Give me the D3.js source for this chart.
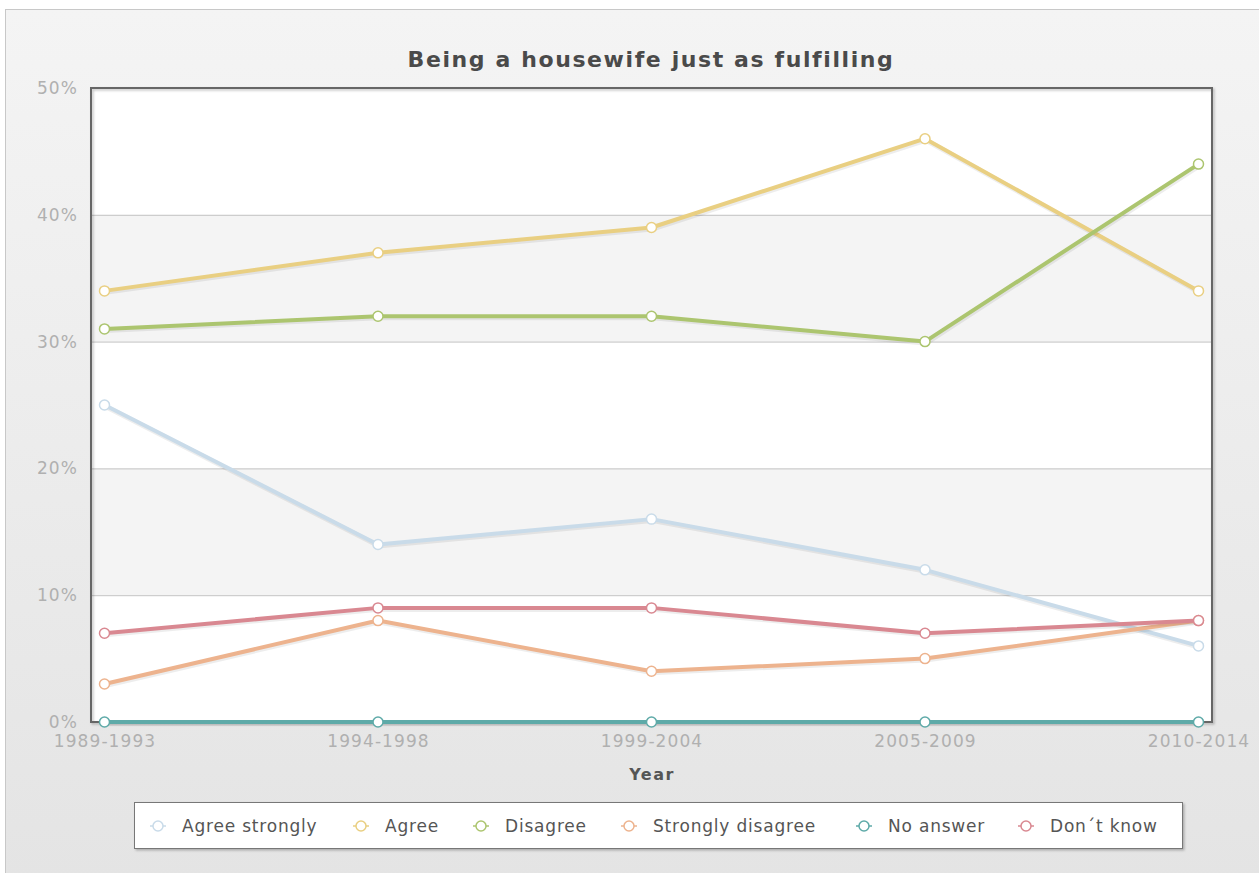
<!DOCTYPE html>
<html>
<head>
<meta charset="utf-8">
<script src="https://cdn.jsdelivr.net/npm/d3@7"></script>
<style>
  body { margin: 0; background: #fff; }
  svg { display: block; font-family: "DejaVu Sans", Verdana, sans-serif; }
</style>
</head>
<body>
<svg width="1259" height="873"></svg>
<script>
// data
let periods = ["1989-1993", "1994-1998", "1999-2004", "2005-2009", "2010-2014"];
let seriesNames = ["Agree strongly", "Agree", "Disagree", "Strongly disagree", "No answer", "Don\u00b4t know"];
let agreeStrongly = [25, 14, 16, 12, 6];
let agree = [34, 37, 39, 46, 34];
let disagree = [31, 32, 32, 30, 44];
let stronglyDisagree = [3, 8, 4, 5, 8];
let noAnswer = [0, 0, 0, 0, 0];
let dontKnow = [7, 9, 9, 7, 8];
let yTicks = [0, 10, 20, 30, 40, 50];
let colors = ["#c9dbe9", "#e9cf82", "#acc56f", "#edb38e", "#5eaaa8", "#d98891"];

let allValues = [agreeStrongly, agree, disagree, stronglyDisagree, noAnswer, dontKnow];

let svg = d3.select("svg");
let defs = svg.append("defs");

let bg = defs.append("linearGradient").attr("id", "bg")
  .attr("x1", 0).attr("y1", 0).attr("x2", 0).attr("y2", 1);
bg.append("stop").attr("offset", "0%").attr("stop-color", "#f4f4f4");
bg.append("stop").attr("offset", "100%").attr("stop-color", "#e4e4e4");

let shadow = defs.append("filter").attr("id", "shadow")
  .attr("x", "-5%").attr("y", "-5%").attr("width", "110%").attr("height", "120%");
shadow.append("feDropShadow").attr("dx", 1.5).attr("dy", 1.5)
  .attr("stdDeviation", 1.2).attr("flood-color", "#000").attr("flood-opacity", 0.25);

// outer chart box
svg.append("rect")
  .attr("x", 5.5).attr("y", 9.5)
  .attr("width", 1260).attr("height", 870)
  .attr("fill", "url(#bg)")
  .attr("stroke", "#c8c8c8");

let plotL = 91, plotT = 88, plotR = 1212, plotB = 722;

let x = d3.scalePoint()
  .domain(periods)
  .range([plotL + 13.5, plotR - 13.5]);
let y = d3.scaleLinear()
  .domain([0, 50])
  .range([plotB, plotT]);

// alternating bands
svg.append("g").selectAll("rect")
  .data(yTicks.slice(0, -1))
  .enter().append("rect")
    .attr("x", plotL)
    .attr("y", d => y(d + 10))
    .attr("width", plotR - plotL)
    .attr("height", d => y(d) - y(d + 10))
    .attr("fill", (d, i) => i % 2 ? "#f4f4f4" : "#ffffff");

// grid lines
svg.append("g")
  .attr("transform", `translate(${plotL},0)`)
  .call(d3.axisLeft(y).tickValues(yTicks).tickSize(-(plotR - plotL)).tickFormat(""))
  .call(g => g.select(".domain").remove())
  .selectAll("line").attr("stroke", "#c4c4c4");

// plot frame
svg.append("rect")
  .attr("x", plotL).attr("y", plotT)
  .attr("width", plotR - plotL).attr("height", plotB - plotT)
  .attr("fill", "none")
  .attr("stroke", "#666")
  .attr("stroke-width", 2)
  .attr("filter", "url(#shadow)");

// y labels
svg.append("g")
  .attr("transform", `translate(${plotL},0)`)
  .call(d3.axisLeft(y).tickValues(yTicks).tickSize(0).tickPadding(13).tickFormat(d => d + "%"))
  .call(g => g.select(".domain").remove())
  .selectAll("text")
    .attr("fill", "#b0b0b0")
    .attr("font-size", 17)
    .attr("letter-spacing", 1.1)
    .attr("font-family", "DejaVu Sans, sans-serif");

// x labels
svg.append("g")
  .attr("transform", `translate(0,${plotB})`)
  .call(d3.axisBottom(x).tickSize(0).tickPadding(13))
  .call(g => g.select(".domain").remove())
  .selectAll("text")
    .attr("fill", "#b0b0b0")
    .attr("font-size", 17)
    .attr("letter-spacing", 1.1)
    .attr("font-family", "DejaVu Sans, sans-serif");

svg.append("text")
  .attr("x", 652).attr("y", 780)
  .attr("text-anchor", "middle")
  .attr("font-size", 16)
  .attr("font-weight", "bold")
  .attr("letter-spacing", 1.5)
  .attr("fill", "#555")
  .text("Year");

svg.append("text")
  .attr("x", 651).attr("y", 67)
  .attr("text-anchor", "middle")
  .attr("font-size", 22)
  .attr("font-weight", "bold")
  .attr("fill", "#4a4a4a")
  .attr("letter-spacing", 1.6)
  .text("Being a housewife just as fulfilling");

// lines
let line = d3.line()
  .x((d, i) => x(periods[i]))
  .y(d => y(d));

let series = svg.append("g").selectAll("g")
  .data(allValues)
  .enter().append("g");

series.append("path")
  .attr("d", line)
  .attr("fill", "none")
  .attr("stroke", "#000")
  .attr("stroke-opacity", 0.07)
  .attr("stroke-width", 5)
  .attr("transform", "translate(1,1.5)");

series.append("path")
  .attr("d", line)
  .attr("fill", "none")
  .attr("stroke", (d, i) => colors[i])
  .attr("stroke-width", 4)
  .attr("stroke-linejoin", "round");

series.selectAll("circle")
  .data((d, i) => d.map(v => ({ v: v, c: colors[i] })))
  .enter().append("circle")
    .attr("cx", (d, i) => x(periods[i]))
    .attr("cy", d => y(d.v))
    .attr("r", 5)
    .attr("fill", "#fff")
    .attr("stroke", d => d.c)
    .attr("stroke-width", 1.5);

// legend
svg.append("rect")
  .attr("x", 134.5).attr("y", 802.5)
  .attr("width", 1048).attr("height", 46)
  .attr("fill", "#fff")
  .attr("stroke", "#777")
  .attr("filter", "url(#shadow)");

let legendX = [158, 361, 481, 629, 864, 1026];
let legend = svg.append("g").selectAll("g")
  .data(seriesNames)
  .enter().append("g")
    .attr("transform", (d, i) => `translate(${legendX[i]},826)`);

legend.append("line")
  .attr("x1", -8).attr("x2", 8)
  .attr("stroke", (d, i) => colors[i])
  .attr("stroke-width", 1.5);
legend.append("circle")
  .attr("r", 5)
  .attr("fill", "#fff")
  .attr("stroke", (d, i) => colors[i])
  .attr("stroke-width", 1.5);
legend.append("text")
  .attr("x", 24)
  .attr("dy", "0.35em")
  .attr("font-size", 17)
  .attr("letter-spacing", 0.8)
  .attr("fill", "#555")
  .text(d => d);
</script>
</body>
</html>
